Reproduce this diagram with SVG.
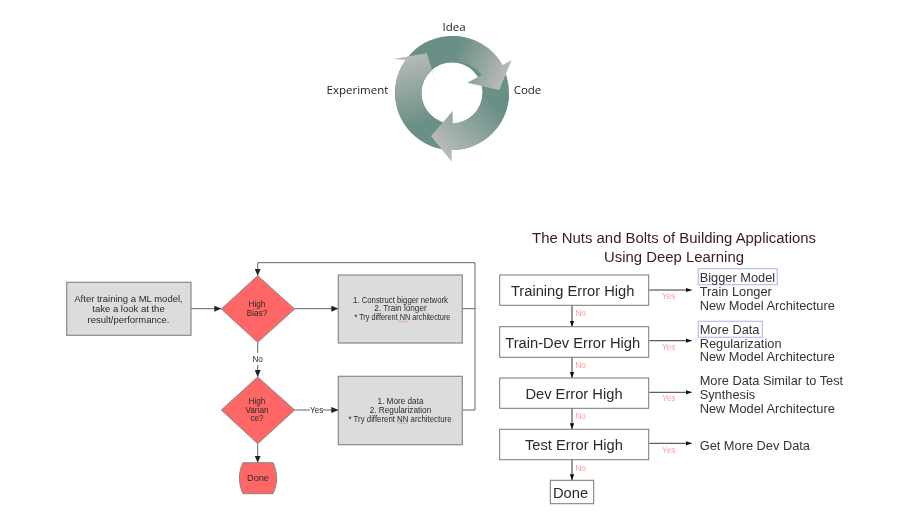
<svg xmlns="http://www.w3.org/2000/svg" width="912" height="532" viewBox="0 0 912 532">
<style>
text{font-family:"Liberation Sans",Arial,sans-serif;dominant-baseline:central;text-anchor:middle;fill:#2a2a2a}
.cy{font-family:"Open Sans","Noto Sans",sans-serif;font-size:11.5px;fill:#222}
.gb{fill:#dcdcdc;stroke:#8a8a8a;stroke-width:1.2}
.rd{fill:#ff6666;stroke:#888;stroke-width:1}
.ln{fill:none;stroke:#666;stroke-width:1}
.ln2{fill:none;stroke:#333;stroke-width:1}
.t8{font-size:8.200px}
.t9{font-size:9.500px}
.bx{fill:#fff;stroke:#777;stroke-width:1}
.bt{font-size:14.700px}
.rt{font-size:12.800px;text-anchor:start;fill:#333}
.no{font-size:8.200px;fill:#ff9c9c}
.hl{fill:none;stroke:#b8bdf2;stroke-width:1.2}
.sq{fill:none;stroke:#e88;stroke-width:.7}
</style>
<defs>
<marker id="ah" markerUnits="userSpaceOnUse" markerWidth="7" markerHeight="6" refX="7" refY="3" orient="auto"><path d="M0 0L7 3L0 6Z" fill="#222"/></marker>
<marker id="as" markerUnits="userSpaceOnUse" markerWidth="6" markerHeight="5" refX="6" refY="2.500" orient="auto"><path d="M0 .3L6 2.500L0 4.700Z" fill="#111"/></marker>
<linearGradient id="g1" gradientUnits="userSpaceOnUse" x1="452" y1="62.500" x2="500" y2="85"><stop offset="0" stop-color="#6b8f86"/><stop offset="1" stop-color="#b6bab9"/></linearGradient>
<linearGradient id="g2" gradientUnits="userSpaceOnUse" x1="482.500" y1="93" x2="435" y2="140"><stop offset="0" stop-color="#6b8f86"/><stop offset="1" stop-color="#b6bab9"/></linearGradient>
<linearGradient id="g3" gradientUnits="userSpaceOnUse" x1="433" y1="120" x2="415" y2="55"><stop offset="0" stop-color="#6b8f86"/><stop offset="1" stop-color="#b6bab9"/></linearGradient>
<filter id="sb" x="-2%" y="-2%" width="104%" height="104%"><feGaussianBlur stdDeviation="0.55"/></filter>
</defs>
<rect width="912" height="532" fill="#fff"/>
<g filter="url(#sb)">
<g id="cycle">
<path fill="#6b8f86" fill-rule="evenodd" d="M395 93a57 57 0 1 0 114 0a57 57 0 1 0-114 0ZM421.500 93a30.500 30.500 0 1 1 61 0a30.500 30.500 0 1 1-61 0Z"/>
<path id="arrow-left" fill="url(#g3)" d="M438 148A57 57 0 0 1 405.500 60L393.300 59L426.700 53.300L436.700 85L431.700 70A30.500 30.500 0 0 0 433 117Z"/>
<path id="arrow-right" fill="url(#g1)" d="M452 36A57 57 0 0 1 502.700 65L511.700 60L499.300 90L467.300 82.700L481.700 75A30.500 30.500 0 0 0 452 62.500Z"/>
<path id="arrow-bottom" fill="url(#g2)" d="M509 93A57 57 0 0 1 451.700 150L451.700 161.700L431 136L452.700 111L452.700 123.300A30.500 30.500 0 0 0 482.500 93Z"/>
<text class="cy" x="454" y="26.700">Idea</text>
<text class="cy" x="357.500" y="89.300">Experiment</text>
<text class="cy" x="527.500" y="89.300">Code</text>
</g>
<g id="left-connectors">
<path class="ln" marker-end="url(#ah)" d="M191 308.700H221.300"/>
<path class="ln" marker-end="url(#ah)" d="M294.700 308.700H338.300"/>
<path class="ln" marker-end="url(#ah)" d="M257.700 342.300V353M257.700 365V377"/>
<path class="ln" marker-end="url(#ah)" d="M294.700 410H310M323 410H338.300"/>
<path class="ln" marker-end="url(#ah)" d="M257.700 443.700V462.700"/>
<path class="ln" d="M462.300 308.700H475M462.300 410H475V262.700H257.700"/>
<path class="ln" marker-end="url(#ah)" d="M257.700 262.700V275.700"/>
<text class="t8" x="257.700" y="359.300">No</text>
<text class="t8" x="316.700" y="410">Yes</text>
</g>
<g id="start"><rect class="gb" x="66.700" y="282.300" width="124.300" height="53"/>
<text class="t9" x="128.500" y="298.700">After training a ML model,</text>
<text class="t9" x="128.500" y="308.700">take a look at  the</text>
<text class="t9" x="128.500" y="319">result/performance.</text></g>
<g id="high-bias"><path class="rd" d="M257.700 275.700L294.700 309L257.700 342.300L221.300 309Z"/>
<text class="t8" x="257" y="304.500">High</text><text class="t8" x="257" y="313">Bias?</text></g>
<g id="high-variance"><path class="rd" d="M257.700 377L294.700 410L257.700 443.700L221.300 410Z"/>
<text class="t8" x="257" y="401.500">High</text><text class="t8" x="257" y="410">Varian</text><text class="t8" x="257" y="418.800">ce?</text></g>
<g id="fix-bias"><rect class="gb" x="338.300" y="275" width="124" height="68"/>
<text class="t8" x="400.500" y="300" textLength="95" lengthAdjust="spacingAndGlyphs">1. Construct bigger network</text>
<text class="t8" x="400.500" y="308.700">2. Train longer</text>
<text class="t8" x="402.400" y="317.300" textLength="96" lengthAdjust="spacingAndGlyphs">* Try different NN architecture</text>
<path class="sq" d="M397.700 322l1.700-1 1.700 1 1.700-1 1.700 1 1.700-1 1.700 1"/></g>
<g id="fix-variance"><rect class="gb" x="338.300" y="376.300" width="124" height="68.400"/>
<text class="t8" x="400.500" y="401.700">1. More data</text>
<text class="t8" x="400.500" y="410.300">2. Regularization</text>
<text class="t8" x="400" y="419" textLength="103" lengthAdjust="spacingAndGlyphs">* Try different NN architecture</text>
<path class="sq" d="M397.700 423.700l1.700-1 1.700 1 1.700-1 1.700 1 1.700-1 1.700 1"/></g>
<g id="done-left"><path class="rd" d="M243 462.700H273C277.800 472 277.800 484 273 493.700H243C238.200 484 238.200 472 243 462.700Z"/>
<text class="t8" style="font-size:9.200px" x="258" y="477.700">Done</text></g>
<g id="title"><text x="674" y="238.300" style="font-size:14.900px;fill:#3a1c1c">The Nuts and Bolts of Building Applications</text>
<text x="674" y="256.700" style="font-size:14.900px;fill:#3a1c1c">Using Deep Learning</text></g>
<g id="right-connectors">
<path class="ln2" marker-end="url(#as)" d="M649.300 290H691.700"/>
<path class="ln2" marker-end="url(#as)" d="M649.300 340.700H691.700"/>
<path class="ln2" marker-end="url(#as)" d="M649.300 392.300H691.700"/>
<path class="ln2" marker-end="url(#as)" d="M649.300 443.300H691.700"/>
<path class="ln2" marker-end="url(#as)" d="M572 305.300V326.700"/>
<path class="ln2" marker-end="url(#as)" d="M572 357.300V378"/>
<path class="ln2" marker-end="url(#as)" d="M572 408.300V429.300"/>
<path class="ln2" marker-end="url(#as)" d="M572 459.700V480.300"/>
<text class="no" x="668.700" y="296">Yes</text><text class="no" x="668.700" y="347.300">Yes</text><text class="no" x="668.700" y="398.300">Yes</text><text class="no" x="668.700" y="450">Yes</text>
<text class="no" x="580.700" y="313.700">No</text><text class="no" x="580.700" y="365">No</text><text class="no" x="580.700" y="416.700">No</text><text class="no" x="580.700" y="468.300">No</text>
</g>
<g id="training-error"><rect class="bx" x="499.700" y="275" width="149" height="30.300"/><text class="bt" x="572.700" y="290.700">Training Error High</text></g>
<g id="train-dev-error"><rect class="bx" x="499.700" y="326.700" width="149" height="30.600"/><text class="bt" x="572.700" y="342.700">Train-Dev Error High</text></g>
<g id="dev-error"><rect class="bx" x="499.700" y="378" width="149" height="30.300"/><text class="bt" x="574" y="394">Dev Error High</text></g>
<g id="test-error"><rect class="bx" x="499.700" y="429.300" width="149" height="30.400"/><text class="bt" x="574" y="445">Test Error High</text></g>
<g id="done-right"><rect class="bx" x="550.300" y="480.300" width="43.400" height="23.400"/><text class="bt" x="570.500" y="492.700">Done</text></g>
<g id="bias-actions"><rect class="hl" x="698.300" y="268.700" width="79" height="16"/>
<text class="rt" x="699.700" y="277">Bigger Model</text><text class="rt" x="699.700" y="291.700">Train Longer</text><text class="rt" x="699.700" y="305">New Model Architecture</text></g>
<g id="variance-actions"><rect class="hl" x="698.300" y="321.300" width="64" height="16"/>
<text class="rt" x="699.700" y="329.700">More Data</text><text class="rt" x="699.700" y="343.500">Regularization</text><text class="rt" x="699.700" y="356.900">New Model Architecture</text></g>
<g id="dev-actions"><text class="rt" x="699.700" y="380.700">More Data Similar to Test</text><text class="rt" x="699.700" y="394.300">Synthesis</text><text class="rt" x="699.700" y="408">New Model Architecture</text></g>
<g id="test-actions"><text class="rt" x="699.700" y="445.700">Get More Dev Data</text></g>
</g>
</svg>
